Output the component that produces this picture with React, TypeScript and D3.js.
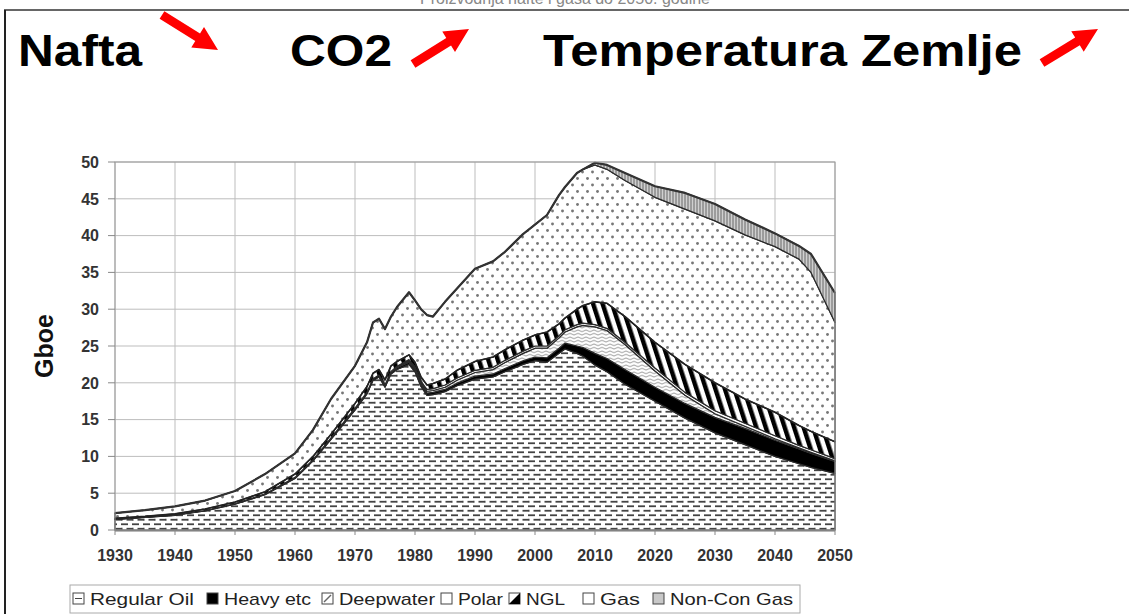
import React from "react";
import * as d3 from "d3";

const width = 1129;
const height = 614;
const plot = { left: 115, right: 835, top: 162, bottom: 530 };
const font = "'Liberation Sans', Arial, sans-serif";

// years (denser where the curves are jagged)
const years = [
  1930, 1935, 1940, 1945, 1950, 1955, 1960, 1963, 1966, 1970, 1972, 1973, 1974,
  1975, 1976, 1977, 1979, 1980, 1981, 1982, 1983, 1985, 1987, 1990, 1993, 1995,
  1998, 2000, 2002, 2004, 2005, 2007, 2008, 2010, 2012, 2015, 2020, 2025, 2030,
  2035, 2040, 2044, 2046, 2050,
];

// Gboe per year, one array per layer (bottom to top)
const regularOil = [
  1.45, 1.7, 2.0, 2.6, 3.5, 4.8, 7.0, 9.4, 12.3, 16.3, 18.5, 20.3, 20.8, 19.4,
  21.2, 21.8, 22.5, 21.5, 19.5, 18.3, 18.4, 18.8, 19.6, 20.5, 20.8, 21.5, 22.5,
  23.0, 22.8, 24.0, 24.6, 24.0, 23.6, 22.4, 21.5, 19.8, 17.5, 15.2, 13.2, 11.6,
  10.0, 9.0, 8.5, 7.7,
];
const heavy = [
  0.02, 0.03, 0.05, 0.05, 0.1, 0.1, 0.15, 0.15, 0.2, 0.25, 0.25, 0.25, 0.25,
  0.25, 0.25, 0.25, 0.3, 0.3, 0.3, 0.3, 0.3, 0.3, 0.35, 0.4, 0.4, 0.45, 0.5, 0.5,
  0.6, 0.7, 0.8, 1.0, 1.2, 1.6, 1.8, 2.0, 1.9, 2.0, 2.1, 2.2, 2.2, 2.0, 1.9, 1.6,
];
const deepwater = [
  0, 0, 0, 0, 0, 0, 0, 0, 0, 0, 0, 0, 0, 0.05, 0.05, 0.1, 0.15, 0.2, 0.2, 0.25,
  0.25, 0.3, 0.4, 0.5, 0.6, 0.8, 1.0, 1.2, 1.3, 1.4, 1.5, 2.6, 3.0, 3.6, 3.8, 3.4,
  2.2, 1.1, 0.5, 0.3, 0.2, 0.15, 0.15, 0.1,
];
const polar = [
  0, 0, 0, 0, 0, 0, 0, 0, 0, 0, 0, 0, 0, 0.05, 0.05, 0.1, 0.2, 0.2, 0.2, 0.25,
  0.25, 0.3, 0.3, 0.3, 0.3, 0.3, 0.3, 0.3, 0.3, 0.3, 0.3, 0.3, 0.3, 0.3, 0.3, 0.3,
  0.4, 0.4, 0.4, 0.4, 0.4, 0.35, 0.35, 0.3,
];
const ngl = [
  0.13, 0.12, 0.15, 0.2, 0.2, 0.3, 0.45, 0.45, 0.5, 0.65, 0.75, 0.75, 0.75, 0.65,
  0.75, 0.65, 0.65, 0.6, 0.6, 0.6, 0.7, 0.8, 1.05, 1.2, 1.4, 1.45, 1.5, 1.5, 1.9,
  1.6, 1.6, 2.1, 2.4, 3.1, 3.4, 3.5, 3.5, 3.8, 3.8, 3.3, 3.2, 2.7, 2.5, 2.3,
];
const gas = [
  0.7, 0.85, 1.0, 1.15, 1.5, 2.4, 2.8, 3.6, 4.8, 5.1, 6.0, 6.9, 6.9, 6.9, 6.7,
  7.4, 8.5, 8.4, 9.2, 9.5, 9.1, 10.5, 11.1, 12.6, 13.0, 13.3, 14.4, 15.0, 15.9,
  17.5, 17.8, 18.5, 18.5, 18.6, 18.2, 18.5, 19.7, 21.1, 22.0, 22.3, 22.5, 22.6,
  21.6, 16.2,
];
const nonConGas = [
  0, 0, 0, 0, 0, 0, 0, 0, 0, 0, 0, 0, 0, 0, 0, 0, 0, 0, 0, 0, 0, 0, 0, 0, 0, 0, 0,
  0, 0, 0, 0, 0, 0, 0.3, 0.6, 1.0, 1.5, 2.2, 2.3, 2.1, 1.8, 1.8, 2.5, 4.0,
];

const keys = ["regularOil", "heavy", "deepwater", "polar", "ngl", "gas", "nonConGas"];
const legendLabels = ["Regular Oil", "Heavy etc", "Deepwater", "Polar", "NGL", "Gas", "Non-Con Gas"];
const xTicks = [1930, 1940, 1950, 1960, 1970, 1980, 1990, 2000, 2010, 2020, 2030, 2040, 2050];
const yTicks = [0, 5, 10, 15, 20, 25, 30, 35, 40, 45, 50];

const fills = ["url(#pRegular)", "#000", "url(#pDeep)", "#fff", "url(#pNgl)", "url(#pGas)", "url(#pNonCon)"];
// legend layout (x of icon, width of label)
const legendX = [73, 207, 322, 441, 509, 583, 653];
const legendW = [104, 87, 96, 45, 39, 40, 123];

const rows = years.map((year, i) => ({
  year,
  regularOil: regularOil[i],
  heavy: heavy[i],
  deepwater: deepwater[i],
  polar: polar[i],
  ngl: ngl[i],
  gas: gas[i],
  nonConGas: nonConGas[i],
}));

function arrowPath(x1, y1, x2, y2) {
  const dx = x2 - x1;
  const dy = y2 - y1;
  const len = Math.hypot(dx, dy);
  const ux = dx / len;
  const uy = dy / len;
  const nx = -uy;
  const ny = ux;
  const sw = 4.5; // half shaft width
  const hw = 12; // half head width
  const hl = 24; // head length
  const bx = x2 - ux * hl;
  const by = y2 - uy * hl;
  const p = [
    [x1 + nx * sw, y1 + ny * sw],
    [bx + nx * sw, by + ny * sw],
    [bx + nx * hw, by + ny * hw],
    [x2, y2],
    [bx - nx * hw, by - ny * hw],
    [bx - nx * sw, by - ny * sw],
    [x1 - nx * sw, y1 - ny * sw],
  ];
  return "M" + p.map((d) => d.join(",")).join("L") + "Z";
}

export default function App() {
  const x = d3.scaleLinear().domain([1930, 2050]).range([plot.left, plot.right]);
  const y = d3.scaleLinear().domain([0, 50]).range([plot.bottom, plot.top]);

  const series = d3.stack().keys(keys)(rows);

  const area = d3
    .area()
    .x((d) => x(d.data.year))
    .y0((d) => y(d[0]))
    .y1((d) => y(d[1]));

  const topLine = d3
    .line()
    .x((d) => x(d.data.year))
    .y((d) => y(d[1]));

  return (
    <svg
      width={width}
      height={height}
      style={{ position: "absolute", left: 0, top: 0, background: "#fff" }}
      fontFamily={font}
    >
      <defs>
        <pattern id="pRegular" width="11" height="9" patternUnits="userSpaceOnUse">
          <rect width="11" height="9" fill="#fff" />
          <line x1="0" x2="7" y1="2.25" y2="2.25" stroke="#444" strokeWidth="1.8" />
          <line x1="5.5" x2="12.5" y1="6.75" y2="6.75" stroke="#444" strokeWidth="1.8" />
          <line x1="-5.5" x2="1.5" y1="6.75" y2="6.75" stroke="#444" strokeWidth="1.8" />
        </pattern>
        <pattern id="pGas" width="10" height="13" patternUnits="userSpaceOnUse">
          <rect width="10" height="13" fill="#fff" />
          <circle cx="2.5" cy="3" r="1.45" fill="#777" />
          <circle cx="7.5" cy="9.5" r="1.45" fill="#777" />
        </pattern>
        <pattern id="pDeep" width="8" height="3.5" patternUnits="userSpaceOnUse">
          <rect width="8" height="3.5" fill="#fff" />
          <path d="M0 1.75 Q2 0 4 1.75 T8 1.75" fill="none" stroke="#777" strokeWidth="0.8" />
        </pattern>
        <pattern
          id="pNgl"
          width="9"
          height="9"
          patternUnits="userSpaceOnUse"
          patternTransform="rotate(-18)"
        >
          <rect width="9" height="9" fill="#fff" />
          <rect width="4.5" height="9" fill="#000" />
        </pattern>
        <pattern id="pNonCon" width="3" height="3" patternUnits="userSpaceOnUse">
          <rect width="3" height="3" fill="#d0d0d0" />
          <line x1="1" x2="1" y1="0" y2="3" stroke="#5a5a5a" strokeWidth="0.9" />
        </pattern>
        <clipPath id="topClip">
          <rect x="0" y="0" width={width} height="7" />
        </clipPath>
      </defs>

      {/* frame of the slide */}
      <text
        x={565}
        y={4}
        textAnchor="middle"
        fontSize={16}
        fill="#888"
        clipPath="url(#topClip)"
      >
        Proizvodnja nafte i gasa do 2050. godine
      </text>
      <line x1={4} x2={width} y1={10} y2={10} stroke="#666" strokeWidth={2} />
      <line x1={5} x2={5} y1={10} y2={height} stroke="#222" strokeWidth={2} />

      {/* title */}
      <g fontWeight="bold" fontSize={45} fill="#000">
        <text x={18} y={66} textLength={124} lengthAdjust="spacingAndGlyphs">
          Nafta
        </text>
        <text x={290} y={66} textLength={102} lengthAdjust="spacingAndGlyphs">
          CO2
        </text>
        <text x={543} y={66} textLength={479} lengthAdjust="spacingAndGlyphs">
          Temperatura Zemlje
        </text>
      </g>
      <g fill="#ff0000">
        <path d={arrowPath(162, 15, 218, 50)} />
        <path d={arrowPath(413, 64, 469, 29)} />
        <path d={arrowPath(1042, 63, 1098, 29)} />
      </g>

      {/* grid */}
      <g stroke="#bdbdbd" strokeWidth={1}>
        {yTicks.map((t) => (
          <line key={"gy" + t} x1={plot.left} x2={plot.right} y1={y(t)} y2={y(t)} />
        ))}
        {xTicks.map((t) => (
          <line key={"gx" + t} x1={x(t)} x2={x(t)} y1={plot.top} y2={plot.bottom} />
        ))}
      </g>

      {/* stacked areas */}
      {series.map((s, i) => (
        <path
          key={s.key}
          d={area(s)}
          fill={fills[i]}
          stroke="#2a2a2a"
          strokeWidth={1.2}
          strokeLinejoin="round"
        />
      ))}
      <path
        d={topLine(series[series.length - 1])}
        fill="none"
        stroke="#333"
        strokeWidth={2.2}
        strokeLinejoin="round"
      />
      <path
        d={topLine(series[4])}
        fill="none"
        stroke="#222"
        strokeWidth={1.6}
        strokeLinejoin="round"
      />

      {/* plot border and axes */}
      <rect
        x={plot.left}
        y={plot.top}
        width={plot.right - plot.left}
        height={plot.bottom - plot.top}
        fill="none"
        stroke="#9a9a9a"
      />
      <line x1={plot.left} x2={plot.right} y1={plot.bottom + 1} y2={plot.bottom + 1} stroke="#777" />
      <g stroke="#888">
        {yTicks.map((t) => (
          <line key={"ty" + t} x1={plot.left - 7} x2={plot.left} y1={y(t)} y2={y(t)} />
        ))}
        {xTicks.map((t) => (
          <line key={"tx" + t} x1={x(t)} x2={x(t)} y1={plot.bottom} y2={plot.bottom + 5} />
        ))}
      </g>
      <g fontWeight="bold" fontSize={16} fill="#333">
        {yTicks.map((t) => (
          <text key={"ly" + t} x={99} y={y(t)} dy="0.36em" textAnchor="end">
            {t}
          </text>
        ))}
        {xTicks.map((t) => (
          <text key={"lx" + t} x={x(t)} y={561} textAnchor="middle">
            {t}
          </text>
        ))}
      </g>
      <text
        transform={`translate(53, 346) rotate(-90)`}
        textAnchor="middle"
        fontWeight="bold"
        fontSize={25}
        fill="#111"
      >
        Gboe
      </text>

      {/* legend */}
      <rect x={70} y={585} width={730} height={28} fill="#fff" stroke="#aaa" />
      {legendLabels.map((label, i) => {
        const lx = legendX[i];
        return (
          <g key={label}>
            <rect
              x={lx}
              y={593}
              width={11}
              height={11}
              fill={i === 1 ? "#000" : i === 6 ? "#c8c8c8" : "#fff"}
              stroke="#444"
            />
            {i === 0 && <line x1={lx + 2} x2={lx + 9} y1={598.5} y2={598.5} stroke="#444" />}
            {i === 2 && (
              <path d={`M${lx + 2},${602} L${lx + 9},${595}`} stroke="#666" strokeWidth={1.5} />
            )}
            {i === 4 && <path d={`M${lx},${604} L${lx + 11},${593} L${lx + 11},${604}Z`} fill="#000" />}
            <text
              x={lx + 17}
              y={605}
              fontSize={17}
              fill="#222"
              textLength={legendW[i]}
              lengthAdjust="spacingAndGlyphs"
            >
              {label}
            </text>
          </g>
        );
      })}
    </svg>
  );
}
